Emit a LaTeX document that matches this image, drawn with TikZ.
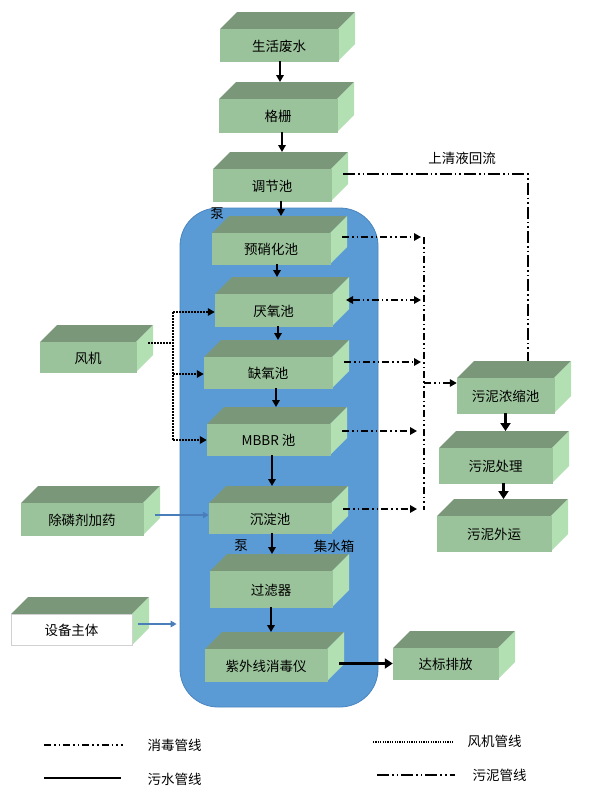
\documentclass[tikz,border=0pt]{standalone}
\usepackage{fontspec}
\newfontfamily\cjk{Noto Sans CJK SC}
\usetikzlibrary{arrows.meta,fit}
\definecolor{frontc}{HTML}{9BC39B}
\definecolor{topc}{HTML}{7A977A}
\definecolor{sidec}{HTML}{B3E0B3}
\definecolor{bluebg}{HTML}{5B9BD5}
\definecolor{blueedge}{HTML}{4A85BF}
\definecolor{steel}{HTML}{4A7EBB}
\tikzset{
  txt/.style={font=\cjk\fontsize{13.5}{16}\selectfont, text=black},
  tankfront/.style={inner sep=0pt},
  flow/.style={line width=1.8pt, -{Triangle[length=7pt,width=7.5pt]}},
  bigflow/.style={line width=3.2pt, -{Triangle[length=8pt,width=10pt]}},
  dis/.style={line width=1.6pt, dash pattern=on 7pt off 3pt on 1.6pt off 3pt on 1.6pt off 3pt},
  sludge/.style={line width=1.4pt, dash pattern=on 12pt off 3pt on 1.6pt off 3pt on 1.6pt off 3pt},
  fanline/.style={line width=1.8pt, dash pattern=on 1.6pt off 1.4pt},
  tip/.style={-{Triangle[length=7pt,width=7.5pt]}},
  steelarrow/.style={steel, line width=1.9pt, -{Triangle[length=6pt,width=6.5pt]}}
}
\newcommand\tank[8]{%
  \fill[topc] (#2,#3) -- ({#2+17},{#3-17}) -- ({#4+17},{#3-17}) -- (#4,#3) -- cycle;
  \fill[sidec] (#4,#3) -- ({#4+17},{#3-17}) -- ({#4+17},{#5-17}) -- (#4,#5) -- cycle;
  \node[tankfront, fill=#7, draw=#8, line width=0.5pt, fit={(#2,#3) (#4,#5)}] (#1) {};
  \node[txt] (#1-label) at ([yshift=-1pt]#1.center) {#6};
  \coordinate (#1-top) at ({(#2+#4)/2},{#3-17});
  \coordinate (#1-side) at ({#4+12},{#3});
}
\begin{document}
\begin{tikzpicture}[x=1pt,y=-1pt]
\useasboundingbox (0,0) rectangle (589,796);
\node[fit={(180,208) (378,707)}, inner sep=0pt, rounded corners=38pt, fill=bluebg, draw=blueedge, line width=0.8pt] (main) {};

\tank{sh}{220}{29}{338}{61}{生活废水}{frontc}{frontc}
\tank{gs}{219}{99}{337}{132}{格栅}{frontc}{frontc}
\tank{tj}{213}{169}{331}{201}{调节池}{frontc}{frontc}
\tank{pre}{212}{233}{330}{264}{预硝化池}{frontc}{frontc}
\tank{ana}{215}{294}{332}{326}{厌氧池}{frontc}{frontc}
\tank{ano}{204}{357}{332}{388}{缺氧池}{frontc}{frontc}
\tank{mbbr}{207}{424}{330}{455}{MBBR 池}{frontc}{frontc}
\tank{sed}{209}{503}{331}{533}{沉淀池}{frontc}{frontc}
\tank{filt}{210}{571}{332}{607}{过滤器}{frontc}{frontc}
\tank{uv}{205}{649}{327}{681}{紫外线消毒仪}{frontc}{frontc}
\tank{db}{393}{648}{498}{679}{达标排放}{frontc}{frontc}
\tank{fan}{40}{342}{136}{372}{风机}{frontc}{frontc}
\tank{chu}{21}{503}{143}{535}{除磷剂加药}{frontc}{frontc}
\tank{sb}{11}{614}{132}{645}{设备主体}{white}{black!18}
\tank{nong}{457}{378}{554}{413}{污泥浓缩池}{frontc}{frontc}
\tank{chuli}{439}{448}{552}{483}{污泥处理}{frontc}{frontc}
\tank{wy}{437}{516}{551}{551}{污泥外运}{frontc}{frontc}

% main sewage flow
\draw[flow] ([xshift=1pt]sh.south) -- ([xshift=1pt]sh.south |- gs-top);
\draw[flow] ([xshift=4pt]gs.south) -- ([xshift=4pt]gs.south |- tj-top);
\draw[flow] ([xshift=9pt]tj.south) -- ([xshift=9pt]tj.south |- pre-top);
\draw[flow] ([xshift=6pt]pre.south) -- ([xshift=6pt]pre.south |- ana-top);
\draw[flow] ([xshift=4.5pt]ana.south) -- ([xshift=4.5pt]ana.south |- ano-top);
\draw[flow] ([xshift=8pt]ano.south) -- ([xshift=8pt]ano.south |- mbbr-top);
\draw[flow] ([xshift=3.5pt]mbbr.south) -- ([xshift=3.5pt]mbbr.south |- sed-top);
\draw[flow] ([xshift=2pt]sed.south) -- ([xshift=2pt]sed.south |- filt-top);
\draw[flow] (filt.south) -- (filt.south |- uv-top);
\draw[bigflow] (uv-side |- db.west) -- (db.west);
\draw[bigflow] (nong.south) -- (nong.south |- chuli-top);
\draw[bigflow] ([xshift=8pt]chuli.south) -- ([xshift=8pt]chuli.south |- wy-top);

% fan lines
\coordinate (fj) at (173,343);
\coordinate (f1) at (173,312);
\coordinate (f2) at (173,374);
\coordinate (f3) at (173,440);
\draw[fanline] (fan-side |- fj) -- (fj);
\draw[fanline] (f1) -- (f3);
\draw[fanline, tip] (f1) -- (ana.west |- f1);
\draw[fanline, tip] (f2) -- (ano.west |- f2);
\draw[fanline, tip] (f3) -- (mbbr.west |- f3);

% chemical dosing and equipment
\coordinate (s1) at (0,515);
\coordinate (s2) at (0,624);
\draw[steelarrow] (chu-side |- s1) -- (sed.west |- s1);
\draw[steelarrow] ([xshift=-6pt]sb-side |- s2) -- ([xshift=-3pt]main.west |- s2);

% sludge collection
\coordinate (c1) at (421,237);
\coordinate (c2) at (421,300);
\coordinate (c3) at (421,362);
\coordinate (c4) at (417,431);
\coordinate (c5) at (417,509);
\coordinate (k1) at (424,237);
\coordinate (k2) at (424,510);
\coordinate (ks) at (424,383);
\draw[dis, tip] (pre-side |- c1) -- (c1);
\draw[dis, {Triangle[length=7pt,width=7.5pt]}-{Triangle[length=7pt,width=7.5pt]}] ([xshift=2pt]ana-side |- c2) -- (c2);
\draw[dis, tip] (ano-side |- c3) -- (c3);
\draw[dis, tip] (mbbr-side |- c4) -- (c4);
\draw[dis, tip] (sed-side |- c5) -- (c5);
\draw[dis] (k1) -- (k2);
\draw[dis, tip] (ks) -- (nong.west |- ks);

% supernatant return
\coordinate (r1) at (528,174);
\draw[sludge] (tj-side |- r1) -- (r1) -- (r1 |- nong-top);

% labels
\node[txt] (p1) at (217,214) {泵};
\node[txt] (p2) at (241,546) {泵};
\node[txt] (jsx) at (334,546) {集水箱};
\node[txt] (sq) at (462,158) {上清液回流};

% legend
\coordinate (l1a) at (44,745); \coordinate (l1b) at (123,745);
\draw[dis, line width=1.2pt] (l1a) -- (l1b);
\node[txt, anchor=west] (t1) at (144,745) {消毒管线};
\coordinate (l2a) at (44,778); \coordinate (l2b) at (121,778);
\draw[line width=1.6pt] (l2a) -- (l2b);
\node[txt, anchor=west] (t2) at (144,779) {污水管线};
\coordinate (l3a) at (373,742); \coordinate (l3b) at (454,742);
\draw[line width=1.1pt, dash pattern=on 1.2pt off 1.2pt] (l3a) -- (l3b);
\node[txt, anchor=west] (t3) at (464,741) {风机管线};
\coordinate (l4a) at (377,775); \coordinate (l4b) at (455,775);
\draw[sludge, line width=1.2pt] (l4a) -- (l4b);
\node[txt, anchor=west] (t4) at (469,775) {污泥管线};
\end{tikzpicture}
\end{document}
